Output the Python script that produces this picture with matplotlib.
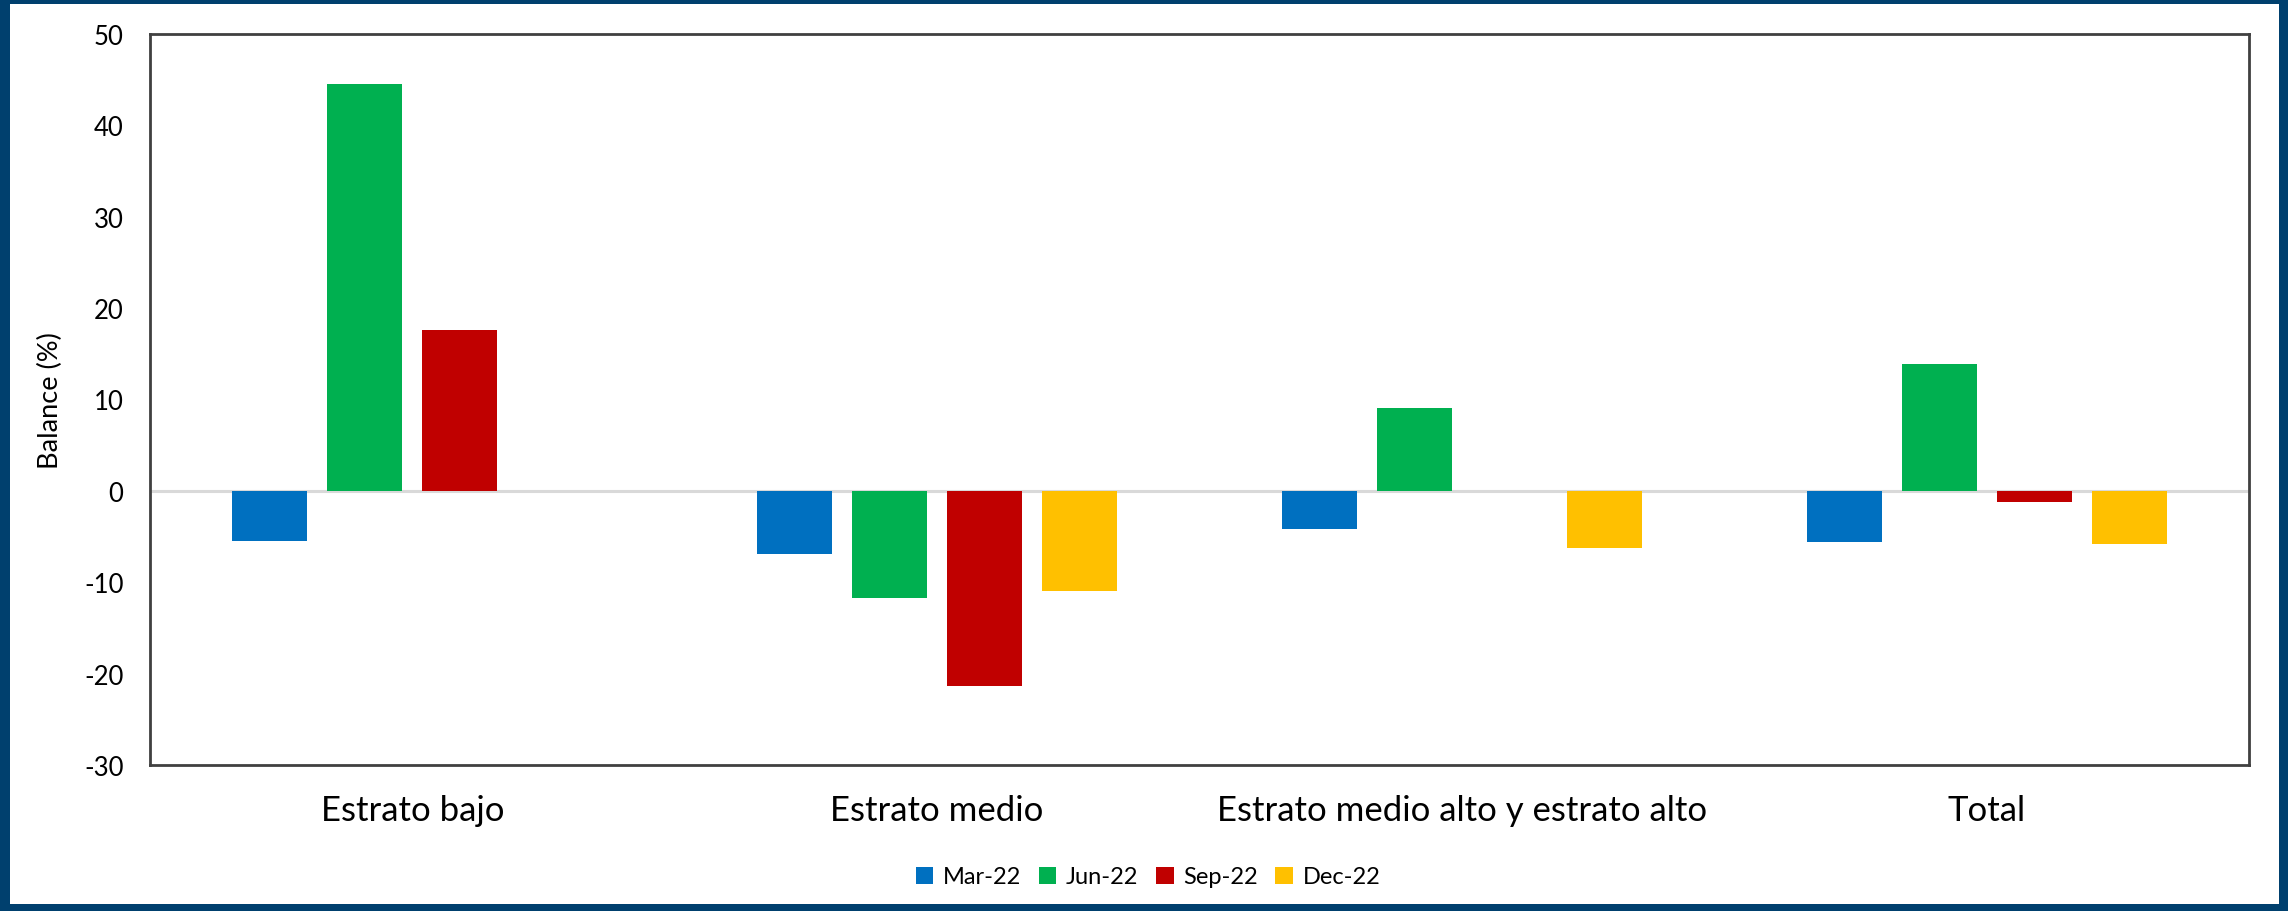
import matplotlib
matplotlib.use("Agg")
import matplotlib.pyplot as plt
from matplotlib.patches import Rectangle
import numpy as np

categories = ["Estrato bajo", "Estrato medio", "Estrato medio alto y estrato alto", "Total"]
series_names = ["Mar-22", "Jun-22", "Sep-22", "Dec-22"]
mar22 = [-5.5, -6.9, -4.2, -5.6]
jun22 = [44.5, -11.7, 9.1, 13.9]
sep22 = [17.6, -21.4, np.nan, -1.2]
dec22 = [np.nan, -11.0, -6.3, -5.8]
colors = ["#0070C0", "#00B050", "#C00000", "#FFC000"]
yticks = [-30, -20, -10, 0, 10, 20, 30, 40, 50]

plt.rcParams['font.family'] = ['Lato', 'DejaVu Sans']

W, H = 2288, 912
fig = plt.figure(figsize=(W / 100, H / 100), dpi=100)
fig.patch.set_facecolor("#00406E")
# white inner panel
panel = Rectangle((10 / W, 7 / H), (W - 19) / W, (H - 12) / H,
                  transform=fig.transFigure, facecolor="white",
                  edgecolor="none", zorder=-10)
fig.patches.append(panel)

ax = fig.add_axes([150 / W, (912 - 766) / H, (2249 - 150) / W, (766 - 35) / H])
ax.set_zorder(5)
ax.set_facecolor("white")

x = np.arange(len(categories))
step = 0.181
width = 0.143
all_series = [mar22, jun22, sep22, dec22]
for i, (vals, name, c) in enumerate(zip(all_series, series_names, colors)):
    ax.bar(x + (i - 1.5) * step, vals, width=width, color=c, label=name, zorder=3)

ax.axhline(0, color="#D9D9D9", lw=2.2, zorder=2)
ax.set_xlim(-0.5, len(categories) - 0.5)
ax.set_ylim(-30, 50)
ax.set_yticks(yticks)
ax.set_yticklabels([str(t) for t in yticks], fontsize=18.5)
ax.set_xticks(x)
ax.set_xticklabels(categories, fontsize=25)
ax.tick_params(axis='both', length=0)
ax.tick_params(axis='y', pad=19)
ax.tick_params(axis='x', pad=21)
ax.set_ylabel("Balance (%)", fontsize=19.5)
ax.yaxis.set_label_coords(-0.0414, 0.5)
for s in ax.spines.values():
    s.set_color("#404040")
    s.set_linewidth(2)

leg = fig.legend(loc="center", bbox_to_anchor=(1148 / W, 1 - 878 / H), ncol=4,
                 frameon=False, fontsize=17, handlelength=0.75, handleheight=0.75,
                 handletextpad=0.4, columnspacing=0.75)
leg.set_zorder(6)

fig.savefig("out.png", dpi=100, facecolor=fig.get_facecolor())
